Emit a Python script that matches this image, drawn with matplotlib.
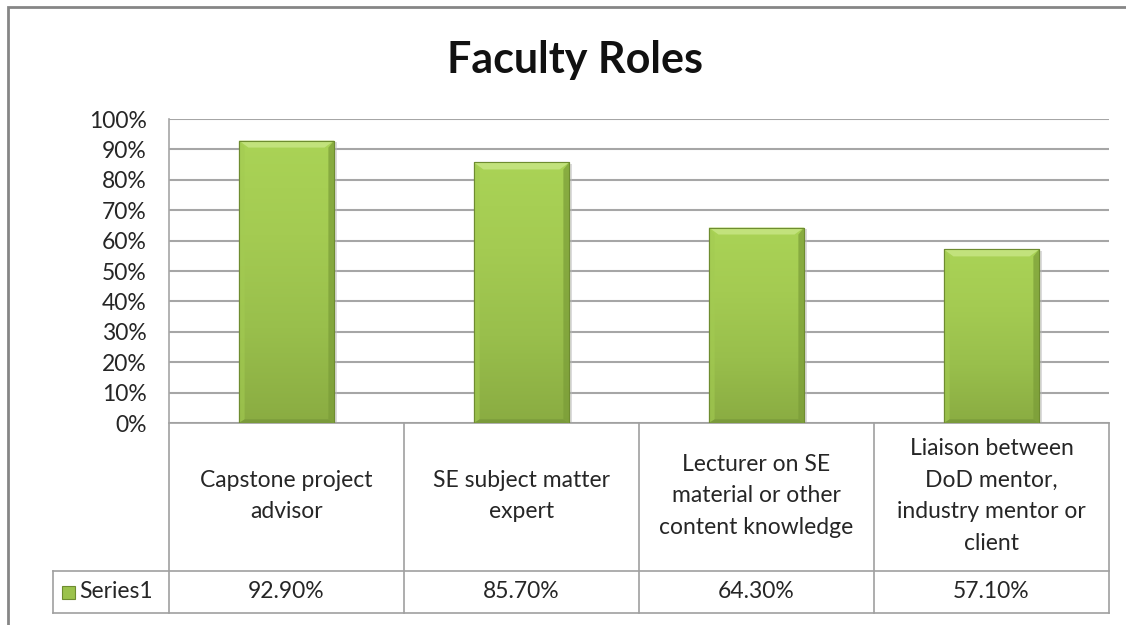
import numpy as np
import matplotlib
matplotlib.use("Agg")
import matplotlib.pyplot as plt
from matplotlib.patches import Rectangle
from matplotlib.colors import LinearSegmentedColormap
from matplotlib.transforms import blended_transform_factory

# data
roles = ["Capstone project\nadvisor",
         "SE subject matter\nexpert",
         "Lecturer on SE\nmaterial or other\ncontent knowledge",
         "Liaison between\nDoD mentor,\nindustry mentor or\nclient"]
values = [92.9, 85.7, 64.3, 57.1]
series_name = "Series1"
title = "Faculty Roles"

plt.rcParams['font.family'] = ['Lato', 'DejaVu Sans']
W, H = 1126, 625
fig = plt.figure(figsize=(W / 100, H / 100), dpi=100)

def fx(px):
    return px / W

def fy(py):
    return 1 - py / H

# outer chart frame (cut off on the right and bottom)
fig.patches.append(Rectangle((fx(8), fy(640)), fx(1130) - fx(8), fy(7) - fy(640),
                             transform=fig.transFigure, fill=False,
                             edgecolor='#868686', lw=2))

left, right, top, bottom = 169, 1109, 119, 423
ax = fig.add_axes([fx(left), fy(bottom), fx(right) - fx(left), fy(top) - fy(bottom)])

x = np.arange(len(values))
fs = 16.5
txt = '#262626'

# soft shadow to the right of each bar
ax.bar(x + 0.012, values, width=0.405, bottom=-0.6, color='#b8b8b8', alpha=0.5, lw=0, zorder=2)
bars = ax.bar(x, values, width=0.405, color='#9bc24c', edgecolor='#6e8c30', lw=0.8, zorder=3)

# shading of bars: vertical gradient clipped to each bar
grad = np.linspace(0, 1, 256).reshape(-1, 1)
cmap = LinearSegmentedColormap.from_list("g", ["#8aac42", "#99bf4c", "#a4cb52", "#aad356"])
for b in bars:
    x0, w, h = b.get_x(), b.get_width(), b.get_height()
    im = ax.imshow(grad, extent=[x0, x0 + w, 0, h], origin='lower', aspect='auto',
                   cmap=cmap, zorder=3.5)
    im.set_clip_path(b)
    # bevel edges
    ax.fill([x0, x0 + w, x0 + w * 0.9, x0 + w * 0.1], [h, h, h - 2.3, h - 2.3],
            color='#c2e27c', zorder=4, lw=0)
    ax.fill([x0, x0 + w * 0.06, x0 + w * 0.06, x0], [h, h - 2.3, 1.2, 0],
            color='#a3cb52', alpha=0.6, zorder=4, lw=0)
    ax.fill([x0 + w, x0 + w * 0.94, x0 + w * 0.94, x0 + w], [h, h - 2.3, 1.2, 0],
            color='#7a9c38', alpha=0.7, zorder=4, lw=0)
    ax.fill([x0, x0 + w, x0 + w * 0.94, x0 + w * 0.06], [0, 0, 1.2, 1.2],
            color='#76963a', alpha=0.8, zorder=4, lw=0)
    ax.plot([x0, x0 + w, x0 + w, x0, x0], [0, 0, h, h, 0], color='#6e8c30', lw=0.8, zorder=5)

ax.set_xlim(-0.5, len(values) - 0.5)
ax.set_ylim(0, 100)
ax.set_yticks(np.arange(0, 101, 10))
ax.set_yticklabels(["%d%%" % v for v in range(0, 101, 10)], fontsize=fs, color=txt)
ax.set_xticks([])
ax.tick_params(axis='y', length=0, pad=16)
ax.yaxis.grid(True, color='#a6a6a6', lw=1.5, zorder=0)
ax.set_axisbelow(True)
for s in ['top', 'right', 'bottom']:
    ax.spines[s].set_visible(False)
ax.spines['left'].set_color('#a6a6a6')
ax.spines['left'].set_linewidth(1.2)

# data table below the plot
tr = blended_transform_factory(ax.transData, fig.transFigure)
row1, row2, row3 = 423, 571, 613
lc = '#a0a0a0'
for i in range(len(values) + 1):
    ax.plot([i - 0.5, i - 0.5], [fy(row1), fy(row3)], transform=tr, color=lc,
            lw=1.2, clip_on=False)
ax.plot([-0.5, len(values) - 0.5], [fy(row1), fy(row1)], transform=tr, color=lc, lw=1.2, clip_on=False)
for r in (row2, row3):
    fig.add_artist(plt.Line2D([fx(53), fx(right)], [fy(r), fy(r)], color=lc, lw=1.2))
fig.add_artist(plt.Line2D([fx(53), fx(53)], [fy(row2), fy(row3)], color=lc, lw=1.2))

for i, (lab, v) in enumerate(zip(roles, values)):
    ax.text(i, fy((row1 + row2) / 2 - 1), lab, transform=tr, ha='center', va='center',
            fontsize=fs, color=txt, linespacing=1.62)
    ax.text(i, fy((row2 + row3) / 2), "%.2f%%" % v, transform=tr, ha='center', va='center',
            fontsize=fs, color=txt)

# legend key in table
fig.patches.append(Rectangle((fx(62), fy(599)), fx(13), 13 / H, transform=fig.transFigure,
                             facecolor='#9bc24c', edgecolor='#6e8c30', lw=0.8))
fig.text(fx(79), fy(592), series_name, ha='left', va='center', fontsize=fs, color=txt)

fig.text(fx(575), fy(60), title, ha='center', va='center', fontsize=31, fontweight='bold',
         color='#111111')

fig.savefig("out.png", dpi=100)
